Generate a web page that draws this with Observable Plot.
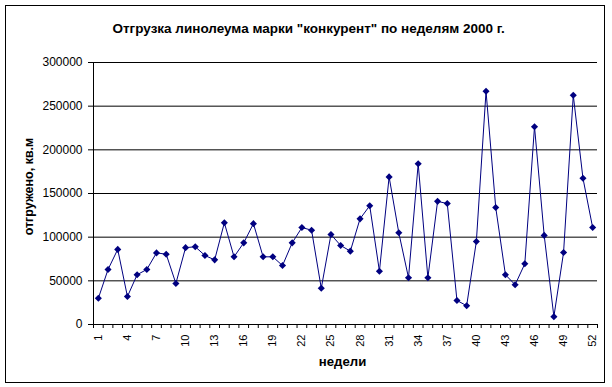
<!DOCTYPE html>
<html><head><meta charset="utf-8">
<script src="https://cdn.jsdelivr.net/npm/d3@7"></script>
<script src="https://cdn.jsdelivr.net/npm/@observablehq/plot@0.6"></script>
<style>
body{margin:0;background:#fff;}
#wrap{position:relative;width:612px;height:387px;overflow:hidden;}
#border{position:absolute;left:5px;top:5px;width:600px;height:378px;border:1px solid #000;box-sizing:border-box;pointer-events:none;}
#wrap svg{position:absolute;left:0;top:0;}
</style>
</head><body>
<div id="wrap"><div id="border"></div></div>
<script>
const title = "Отгрузка линолеума марки \"конкурент\" по неделям 2000 г.";
const yLabel = "отгружено, кв.м";
const xLabel = "недели";
const weeks = [1,2,3,4,5,6,7,8,9,10,11,12,13,14,15,16,17,18,19,20,21,22,23,24,25,26,
  27,28,29,30,31,32,33,34,35,36,37,38,39,40,41,42,43,44,45,46,47,48,49,50,51,52];
const shipped = [30000,63000,86000,32000,57000,63000,82000,80500,47000,88000,89000,79000,74000,
  116500,77500,93500,115500,77500,77500,67500,93500,111000,108000,41500,103000,90500,84000,
  121000,136000,61000,169000,105000,53500,184000,53500,141000,138500,27500,21500,95000,
  267000,134000,57000,45500,69500,226500,102000,9000,82500,262500,167500,111000];
const yTicks = [0,50000,100000,150000,200000,250000,300000];
const xTickLabels = [1,4,7,10,13,16,19,22,25,28,31,34,37,40,43,46,49,52];
const xBoundaries = [0.5].concat(weeks.map(w => w + 0.5));

const data = weeks.map((w, i) => ({week: w, value: shipped[i]}));
const navy = "#000080";

const chart = Plot.plot({
  width: 612, height: 387,
  marginLeft: 93, marginRight: 15, marginTop: 62, marginBottom: 63,
  style: {fontFamily: "'Liberation Sans', Arial, sans-serif", background: "transparent", color: "#000", fontSize: "11px"},
  x: {type: "linear", domain: [0.5, 52.5]},
  y: {domain: [0, 300000]},
  marks: [
    Plot.ruleY(yTicks.filter(v => v > 0), {stroke: "#000"}),
    Plot.ruleX([0.5], {stroke: "#000"}),
    Plot.ruleY([0], {stroke: "#000"}),
    Plot.axisY({ticks: yTicks, tickSize: 5, tickPadding: 6, tickFormat: d => String(d), label: null, fontSize: 12}),
    Plot.axisX({ticks: xBoundaries, tickSize: 4, tickFormat: () => "", label: null}),
    Plot.axisX({ticks: xTickLabels, tickSize: 0, tickPadding: 10, tickRotate: -90, tickFormat: d => String(d), label: null, fontSize: 11}),
    Plot.line(data, {x: "week", y: "value", stroke: navy, strokeWidth: 1}),
    Plot.dot(data, {x: "week", y: "value", symbol: "diamond2", r: 3.2, fill: navy, stroke: "none"}),
    Plot.text([title], {frameAnchor: "top-left", textAnchor: "start", lineAnchor: "middle", dx: 19, dy: -34, fontWeight: "bold", fontSize: 13.5}),
    Plot.text([yLabel], {frameAnchor: "left", rotate: -90, textAnchor: "middle", lineAnchor: "middle", dx: -65, dy: -7, fontWeight: "bold", fontSize: 12.5}),
    Plot.text([xLabel], {frameAnchor: "bottom", textAnchor: "middle", lineAnchor: "middle", dx: -3, dy: 37, fontWeight: "bold", fontSize: 13.2})
  ]
});
document.getElementById("wrap").appendChild(chart);
</script>
</body></html>
